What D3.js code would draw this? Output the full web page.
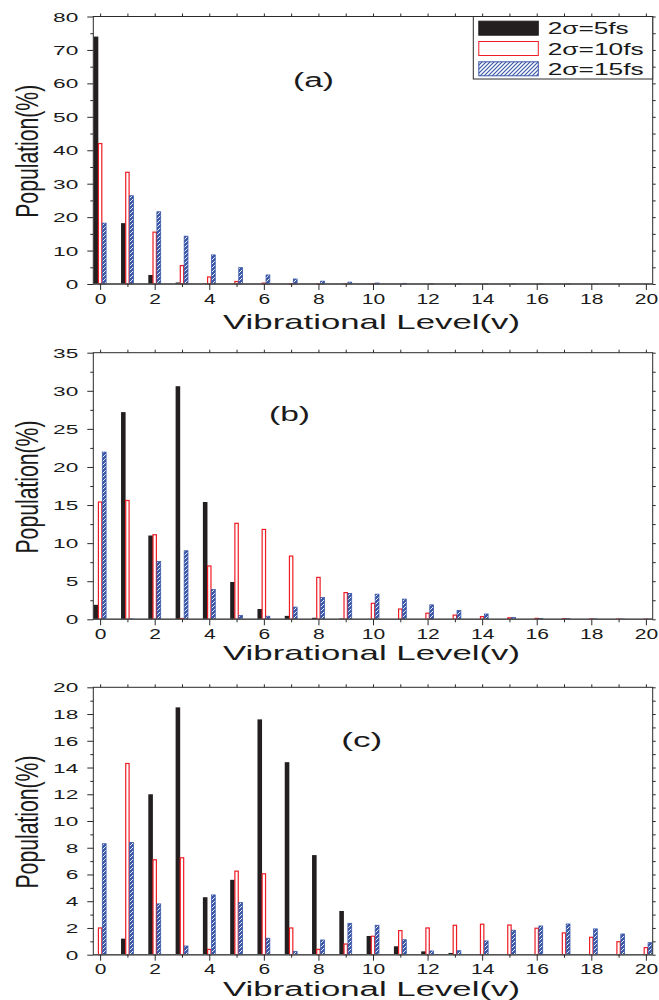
<!DOCTYPE html>
<html><head><meta charset="utf-8">
<script src="https://cdn.jsdelivr.net/npm/d3@7/dist/d3.min.js"></script>
<style>body{margin:0;background:#fff}</style></head>
<body><svg id="chart" width="659" height="1000"></svg>
<script>
// ---------------- data ----------------
const levels = [0,1,2,3,4,5,6,7,8,9,10,11,12,13,14,15,16,17,18,19,20];
const seriesNames = ["2σ=5fs", "2σ=10fs", "2σ=15fs"];
const panelLabels = ["(a)", "(b)", "(c)"];

const a5  = [74, 18.2, 2.7, 0.45, 0.12, 0.05, 0.02, 0.01, 0, 0, 0, 0, 0, 0, 0, 0, 0, 0, 0, 0, 0];
const a10 = [42, 33.4, 15.5, 5.5, 2.1, 0.75, 0.25, 0.1, 0.05, 0.02, 0.01, 0, 0, 0, 0, 0, 0, 0, 0, 0, 0];
const a15 = [18.2, 26.4, 21.6, 14.3, 8.7, 4.9, 2.7, 1.5, 0.85, 0.55, 0.3, 0.2, 0.12, 0.08, 0.05, 0.03, 0.02, 0.01, 0.01, 0, 0];

const b5  = [1.9, 27.2, 11.0, 30.6, 15.4, 4.9, 1.35, 0.45, 0.2, 0.1, 0.05, 0.03, 0.02, 0.01, 0.01, 0, 0, 0, 0, 0, 0];
const b10 = [15.4, 15.6, 11.1, 0.1, 7.0, 12.6, 11.8, 8.3, 5.5, 3.5, 2.1, 1.35, 0.8, 0.55, 0.35, 0.2, 0.12, 0.08, 0.05, 0.03, 0.02];
const b15 = [21.95, 0.05, 7.6, 9.0, 3.9, 0.5, 0.4, 1.6, 2.85, 3.4, 3.3, 2.65, 1.9, 1.15, 0.7, 0.25, 0.12, 0.08, 0.05, 0.03, 0.02];

const c5  = [0.05, 1.2, 12.0, 18.5, 4.3, 5.6, 17.6, 14.4, 7.45, 3.27, 1.4, 0.63, 0.25, 0.13, 0.05, 0.03, 0.03, 0.02, 0.02, 0.02, 0.02];
const c10 = [2.0, 14.3, 7.1, 7.25, 0.4, 6.25, 6.05, 2.0, 0.4, 0.8, 1.38, 1.8, 2.0, 2.2, 2.28, 2.22, 1.98, 1.63, 1.3, 0.97, 0.53];
const c15 = [8.3, 8.4, 3.8, 0.65, 4.47, 3.9, 1.23, 0.25, 1.1, 2.35, 2.2, 1.12, 0.28, 0.3, 1.03, 1.83, 2.15, 2.3, 1.93, 1.55, 0.9];

const yMax = [80, 35, 20];
const yMajor = [10, 5, 2];
const xTickLabels = [0,2,4,6,8,10,12,14,16,18,20];
const xTitle = "Vibrational Level(v)";
const yTitle = "Population(%)";

// ---------------- layout ----------------
const FONT = "'Liberation Sans', Arial, Helvetica, sans-serif";
const L = 93.3, R = 652.7;
const panelTop  = [16.5, 352.7, 687.3];
const panelZero = [284, 619.3, 954.7];
const xTitleBase = [329, 660, 996];
const xTitleSize = [21, 21, 20];
const xTickY = [20, 20, 19];
const panelLabelPos = [[313.5, 87], [289.5, 421], [361.7, 747]];
const COLORS = {black: "#231f20", red: "#ee1c24", blue: "#3b58a8", axis: "#2a2a2a"};

const svg = d3.select("#chart");
const defs = svg.append("defs");
const pat = defs.append("pattern").attr("id", "hatch").attr("patternUnits", "userSpaceOnUse")
  .attr("width", 4).attr("height", 4);
pat.append("rect").attr("width", 4).attr("height", 4).attr("fill", COLORS.blue);
pat.append("path").attr("d", "M-1,1 l2,-2 M0,4 l4,-4 M3,5 l2,-2")
  .attr("stroke", "#ffffff").attr("stroke-width", 0.9);
const patL = defs.append("pattern").attr("id", "hatchL").attr("patternUnits", "userSpaceOnUse")
  .attr("width", 4).attr("height", 4);
patL.append("rect").attr("width", 4).attr("height", 4).attr("fill", "#ffffff");
patL.append("path").attr("d", "M-1,1 l2,-2 M0,4 l4,-4 M3,5 l2,-2")
  .attr("stroke", COLORS.blue).attr("stroke-width", 1.2);

const x = d3.scaleLinear().domain([-0.25, 20.25]).range([L, R]);
const bw = 0.168;          // bar width in level units
const offs = [-0.15, 0, 0.15];

const panelData = [[a5, a10, a15], [b5, b10, b15], [c5, c10, c15]];

panelData.forEach((series, p) => {
  const top = panelTop[p], zero = panelZero[p];
  const y = d3.scaleLinear().domain([0, yMax[p]]).range([zero, top]);
  const g = svg.append("g");

  // bars
  series.forEach((vals, s) => {
    const gs = g.append("g");
    gs.selectAll("rect").data(levels.map((lv, i) => ({lv, v: vals[i]}))).join("rect")
      .attr("x", d => {
        const x0 = x(d.lv + offs[s] - bw / 2);
        return s === 1 ? x0 + 0.6 : s === 2 ? x0 + 0.4 : x0;
      })
      .attr("width", d => {
        const w = x(bw) - x(0);
        return s === 1 ? w - 1.2 : s === 2 ? w - 0.8 : w;
      })
      .attr("y", d => y(d.v))
      .attr("height", d => Math.max(0, zero - y(d.v)))
      .attr("fill", s === 0 ? COLORS.black : s === 1 ? "#ffffff" : "url(#hatch)")
      .attr("stroke", s === 0 ? "none" : s === 1 ? COLORS.red : COLORS.blue)
      .attr("stroke-width", s === 1 ? 1.2 : 0.8);
  });

  // frame
  g.append("rect").attr("x", L).attr("y", top).attr("width", R - L).attr("height", zero - top)
    .attr("fill", "none").attr("stroke", COLORS.axis).attr("stroke-width", 1);
  g.append("line").attr("x1", L).attr("x2", R).attr("y1", zero).attr("y2", zero)
    .attr("stroke", "#555").attr("stroke-width", 1.4);

  const styleAxis = sel => {
    sel.select(".domain").remove();
    sel.selectAll(".tick line").attr("stroke", COLORS.axis).attr("stroke-width", 1);
  };

  // bottom axis
  const oddL = levels.filter(v => v % 2 === 1);
  g.append("g").attr("transform", `translate(0,${zero})`)
    .call(d3.axisBottom(x).tickValues(oddL).tickSize(3).tickFormat("")).call(styleAxis);
  const bx = g.append("g").attr("transform", `translate(0,${zero})`)
    .call(d3.axisBottom(x).tickValues(xTickLabels).tickSize(6).tickFormat(d3.format("d"))).call(styleAxis);
  bx.selectAll(".tick text")
    .attr("y", xTickY[p]).attr("dy", null)
    .attr("font-family", FONT).attr("font-size", 14).attr("fill", "#1a1a1a")
    .attr("textLength", d => String(d).length * 11.7).attr("lengthAdjust", "spacingAndGlyphs");

  // top axis
  g.append("g").attr("transform", `translate(0,${top})`)
    .call(d3.axisTop(x).tickValues(levels).tickSize(3).tickFormat("")).call(styleAxis);

  // left axis
  const step = yMajor[p];
  const majors = d3.range(0, yMax[p] + 1e-9, step);
  const minors = d3.range(step / 2, yMax[p], step);
  g.append("g").attr("transform", `translate(${L},0)`)
    .call(d3.axisLeft(y).tickValues(minors).tickSize(3).tickFormat("")).call(styleAxis);
  const ly = g.append("g").attr("transform", `translate(${L},0)`)
    .call(d3.axisLeft(y).tickValues(majors).tickSize(6).tickFormat(d3.format("d"))).call(styleAxis);
  ly.selectAll(".tick text")
    .attr("x", -15).attr("dy", "0.36em")
    .attr("font-family", FONT).attr("font-size", 12.5).attr("fill", "#1a1a1a")
    .attr("textLength", d => String(d).length * 12.6).attr("lengthAdjust", "spacingAndGlyphs");

  // right axis
  g.append("g").attr("transform", `translate(${R},0)`)
    .call(d3.axisRight(y).tickValues(majors.concat(minors)).tickSize(3).tickFormat("")).call(styleAxis);

  // titles
  g.append("text").attr("x", (L + R) / 2 - 1.5).attr("y", xTitleBase[p])
    .attr("text-anchor", "middle").attr("font-family", FONT).attr("font-size", xTitleSize[p])
    .attr("fill", "#1a1a1a")
    .attr("textLength", 297).attr("lengthAdjust", "spacingAndGlyphs").text(xTitle);
  g.append("text")
    .attr("transform", `translate(37.7,${(top + zero) / 2 + 1}) rotate(-90)`)
    .attr("text-anchor", "middle").attr("font-family", FONT).attr("font-size", 32)
    .attr("fill", "#1a1a1a")
    .attr("textLength", 133).attr("lengthAdjust", "spacingAndGlyphs").text(yTitle);

  // panel label
  g.append("text").attr("x", panelLabelPos[p][0]).attr("y", panelLabelPos[p][1])
    .attr("text-anchor", "middle").attr("font-family", FONT).attr("font-size", 20)
    .attr("fill", "#1a1a1a")
    .attr("textLength", 41).attr("lengthAdjust", "spacingAndGlyphs").text(panelLabels[p]);
});

// legend (panel a)
const lg = svg.append("g");
lg.append("rect").attr("x", 473.3).attr("y", 16.5).attr("width", R - 473.3).attr("height", 62.5)
  .attr("fill", "#ffffff").attr("stroke", COLORS.axis).attr("stroke-width", 1);
const legFill = ["#231f20", "#ffffff", "url(#hatchL)"];
const legStroke = ["#231f20", COLORS.red, COLORS.blue];
const legTextW = [81, 96, 96];
seriesNames.forEach((name, i) => {
  const yy = 20.7 + i * 20.3;
  lg.append("rect").attr("x", 478.8).attr("y", yy + 0.5).attr("width", 59.5).attr("height", 14)
    .attr("fill", legFill[i]).attr("stroke", legStroke[i]).attr("stroke-width", 1);
  lg.append("text").attr("x", 547.7).attr("y", yy + 13.5)
    .attr("font-family", FONT).attr("font-size", 16).attr("fill", "#1a1a1a")
    .attr("textLength", legTextW[i]).attr("lengthAdjust", "spacingAndGlyphs").text(name);
});
</script>
</body></html>
